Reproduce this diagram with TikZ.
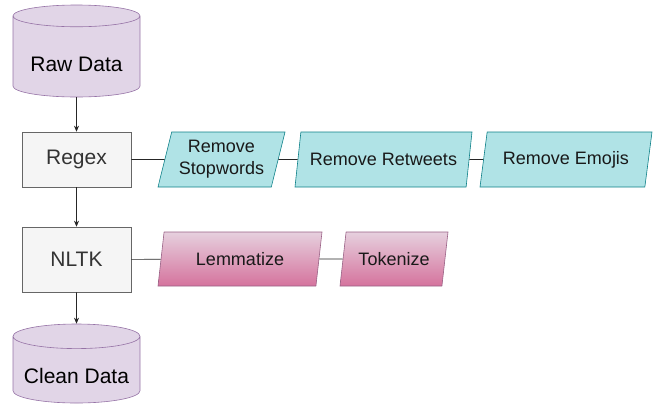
\documentclass[tikz,border=0pt]{standalone}
\usepackage{fontspec}
\setmainfont{Liberation Sans}
\usepackage{tikz}
\usetikzlibrary{arrows.meta, shapes.geometric}
\usepackage{xcolor}
\definecolor{dbfill}{HTML}{E1D5E7}
\definecolor{dbdraw}{HTML}{9673A6}
\definecolor{toolfill}{HTML}{F5F5F5}
\definecolor{tooldraw}{HTML}{666666}
\definecolor{tooltext}{HTML}{333333}
\definecolor{regfill}{HTML}{B0E3E6}
\definecolor{regdraw}{HTML}{0E8088}
\definecolor{nlptop}{HTML}{E6D0DE}
\definecolor{nlpbot}{HTML}{D5739D}
\definecolor{nlpdraw}{HTML}{996185}

\begin{document}
\begin{tikzpicture}[
    x=1pt, y=-1pt,
    db/.style={cylinder, shape border rotate=90, aspect=0.22, draw=dbdraw,
               fill=dbfill, line width=0.6pt, anchor=shape center,
               font=\fontsize{21}{24}\selectfont},
    dbtext/.style={font=\fontsize{21}{24}\selectfont},
    tool/.style={draw=tooldraw, fill=toolfill, line width=0.6pt,
                 minimum width=109pt, text=tooltext,
                 font=\fontsize{21}{24}\selectfont},
    task/.style={trapezium, trapezium left angle=73, trapezium right angle=107,
                 trapezium stretches body=true,
                 line width=0.6pt, inner xsep=1pt, minimum height=55pt,
                 align=center, text=black!90, font=\fontsize{18}{22}\selectfont},
    regex/.style={task, draw=regdraw, fill=regfill},
    nltk/.style={task, draw=nlpdraw, top color=nlptop, bottom color=nlpbot,
                 minimum height=54pt},
    arrow/.style={-{Stealth[length=6pt, width=5pt]}, line width=0.6pt, black!85},
    link/.style={line width=0.6pt, black!85},
  ]
    \useasboundingbox (0,0) rectangle (663,405);

    % data stores; the label goes under the top cap
    \node[db, minimum width=127pt, minimum height=92pt] (raw) at (76.5,51) {\phantom{Raw Data}};
    \node[dbtext] (rawtxt) at ([yshift=-13pt]raw.shape center) {Raw Data};
    \node[db, minimum width=127pt, minimum height=79pt] (clean) at (76.5,363.5) {\phantom{Clean Data}};
    \node[dbtext] (cleantxt) at ([yshift=-12.5pt]clean.shape center) {Clean Data};

    % processing tools
    \node[tool, minimum height=55pt] (re) at (76.5,159.5) {Regex};
    \node[tool, minimum height=65pt] (nltk) at (76.5,259.5) {NLTK};

    % regex steps
    \node[regex, minimum width=127pt] (stop) at (221.5,159.5) {Remove\\Stopwords};
    \node[regex, minimum width=177pt] (rt) at (383.5,159.5) {Remove Retweets};
    \node[regex, minimum width=172pt] (emo) at (566,159.5) {Remove Emojis};

    % nltk steps
    \node[nltk, minimum width=164pt] (lem) at (240,259) {Lemmatize};
    \node[nltk, minimum width=108pt] (tok) at (394,259) {Tokenize};

    % main flow
    \draw[arrow] (raw) -- (re);
    \draw[arrow] (re) -- (nltk);
    \draw[arrow] (nltk) -- (clean);

    % step chains
    \draw[link] (re) -- (stop);
    \draw[link] (stop) -- (rt);
    \draw[link] (rt) -- (emo);
    \draw[link] (nltk) -- (lem);
    \draw[link] (lem) -- (tok);
\end{tikzpicture}
\end{document}
